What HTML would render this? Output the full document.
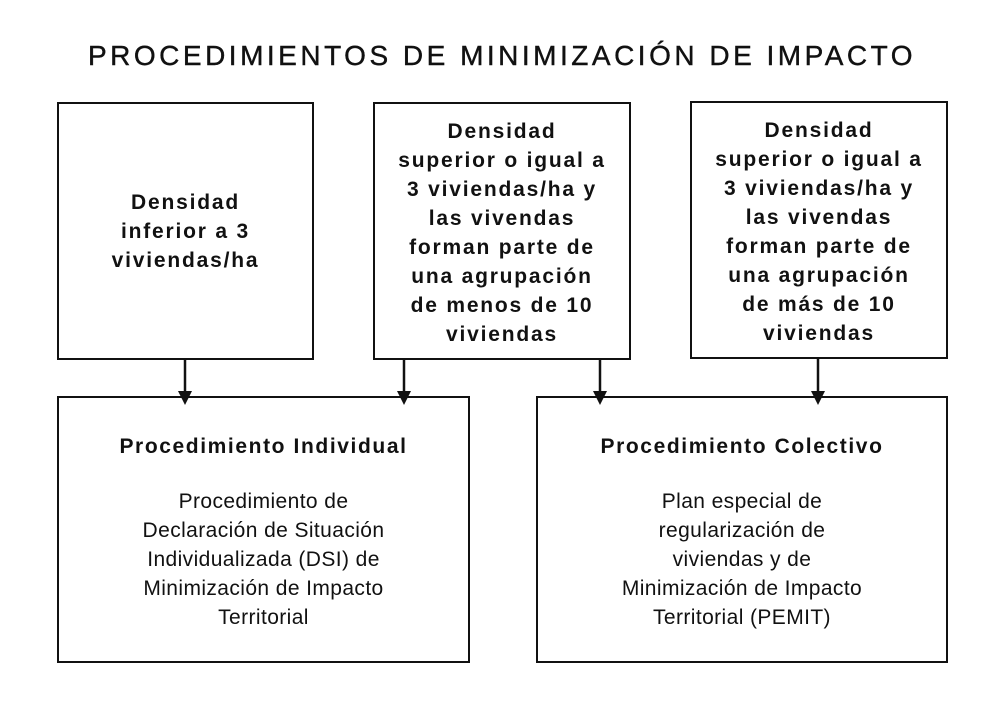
<!DOCTYPE html>
<html><head><meta charset="utf-8"><style>
body{margin:0;background:#fff;width:1004px;height:720px;position:relative;overflow:hidden;font-family:"Liberation Sans",sans-serif;color:#111}
.t{position:absolute;left:0;width:1004px;top:40px;text-align:center;font-size:28px;letter-spacing:3.5px;font-weight:500;-webkit-text-stroke:0.4px #111}
.b{position:absolute;border:2px solid #111;box-sizing:border-box;display:flex;align-items:center;justify-content:center;text-align:center;font-size:21px;line-height:29px}
.bold{font-weight:bold;letter-spacing:1.8px}
.bot{position:absolute;text-align:center;font-size:21px;line-height:29px;letter-spacing:0.4px}
.bot b{letter-spacing:1.6px}
</style></head><body>
<div class="t">PROCEDIMIENTOS DE MINIMIZACIÓN DE IMPACTO</div>
<div class="b bold" style="left:57px;top:102px;width:257px;height:258px">Densidad<br>inferior a 3<br>viviendas/ha</div>
<div class="b bold" style="left:373px;top:102px;width:258px;height:258px;padding-top:4px">Densidad<br>superior o igual a<br>3 viviendas/ha y<br>las vivendas<br>forman parte de<br>una agrupación<br>de menos de 10<br>viviendas</div>
<div class="b bold" style="left:690px;top:101px;width:258px;height:258px;padding-top:4px">Densidad<br>superior o igual a<br>3 viviendas/ha y<br>las vivendas<br>forman parte de<br>una agrupación<br>de más de 10<br>viviendas</div>
<div class="b" style="left:57px;top:396px;width:413px;height:267px"></div>
<div class="b" style="left:536px;top:396px;width:412px;height:267px"></div>
<div class="bot" style="left:57px;width:413px;top:432px"><b>Procedimiento Individual</b><br><div style="height:26px"></div>Procedimiento de<br>Declaración de Situación<br>Individualizada (DSI) de<br>Minimización de Impacto<br>Territorial</div>
<div class="bot" style="left:536px;width:412px;top:432px"><b>Procedimiento Colectivo</b><br><div style="height:26px"></div>Plan especial de<br>regularización de<br>viviendas y de<br>Minimización de Impacto<br>Territorial (PEMIT)</div>
<svg width="1004" height="720" style="position:absolute;left:0;top:0">
<g stroke="#111" stroke-width="2.5" fill="#111">
<line x1="185" y1="359" x2="185" y2="393"/><polygon points="178,391 192,391 185,405" stroke="none"/>
<line x1="404" y1="359" x2="404" y2="393"/><polygon points="397,391 411,391 404,405" stroke="none"/>
<line x1="600" y1="359" x2="600" y2="393"/><polygon points="593,391 607,391 600,405" stroke="none"/>
<line x1="818" y1="358" x2="818" y2="393"/><polygon points="811,391 825,391 818,405" stroke="none"/>
</g></svg>
</body></html>
